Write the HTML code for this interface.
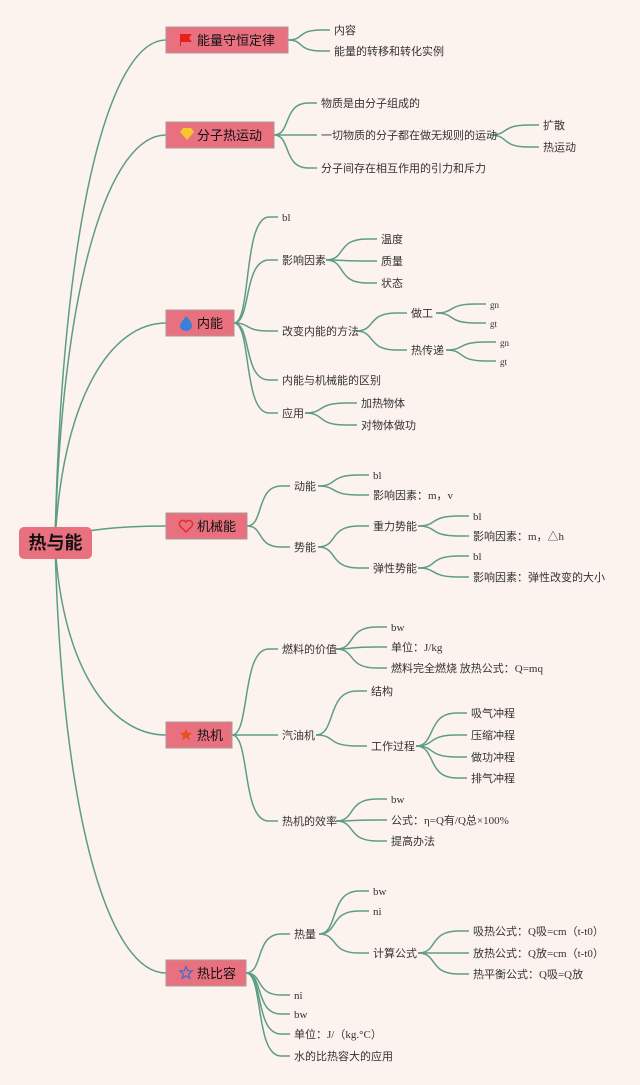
<!DOCTYPE html>
<html><head><meta charset="utf-8"><style>
html,body{margin:0;padding:0;background:#fcf3ef;}
svg{display:block;font-family:"Liberation Sans","Noto Sans CJK SC",sans-serif;}
.lf{font-family:"Liberation Serif","Noto Sans CJK SC",serif;}
</style></head><body>
<svg id="s" width="640" height="1085" xmlns="http://www.w3.org/2000/svg">
<rect width="640" height="1085" fill="#fcf3ef"/>
<g id="lines" fill="none" stroke="#5e9c84" stroke-width="1.5"></g>
<g id="nodes"></g>
</svg>
<script>
var L=document.getElementById('lines'),N=document.getElementById('nodes'),ns='http://www.w3.org/2000/svg';
function el(p,t,a,txt){var e=document.createElementNS(ns,t);for(var k in a)e.setAttribute(k,a[k]);if(txt)e.textContent=txt;p.appendChild(e);return e;}
function curve(px,py,cx,cy){var dx=cx-px;el(L,'path',{d:'M'+px+','+py+' C'+(px+dx*0.4)+','+py+' '+(px+dx*0.2)+','+cy+' '+(px+dx*0.8)+','+cy+' L'+cx+','+cy});}
function leaf(px,py,x,y,t,fs){curve(px,py,x-4,y);el(N,'text',{x:x,y:y+4,'font-size':fs||11,fill:'#333','class':'lf'},t);}
var mains=[[27,122,'能量守恒定律','flag'],[122,108,'分子热运动','gem'],[310,68,'内能','fire'],[513,81,'机械能','heart'],[722,66,'热机','star'],[960,80,'热比容','star2']];
mains.forEach(function(m){var cy=m[0]+13;el(L,'path',{d:'M55,543 C62,'+(cy+(543-cy)*0.35)+' 110,'+cy+' 166,'+cy});});
el(N,'rect',{x:19,y:527,width:73,height:32,rx:5,fill:'#e8707f'});
el(N,'text',{x:55.5,y:549,'font-size':18,'font-weight':'bold','text-anchor':'middle',fill:'#111'},'热与能');
mains.forEach(function(m){var y=m[0];el(N,'rect',{x:166,y:y,width:m[1],height:26,fill:'#e8707f',stroke:'#a89a9a','stroke-width':1});
var iy=y+13;
if(m[3]=='flag'){el(N,'path',{d:'M180,'+(y+7)+' h12 l-3,4 l3,4 h-11 v4 h-1z',fill:'#e8201c'});}
else if(m[3]=='gem'){el(N,'path',{d:'M180,'+(iy-3)+' l3,-4 h8 l3,4 l-7,8z',fill:'#f7c52c'});}
else if(m[3]=='fire'){el(N,'path',{d:'M186,'+(iy-7)+' c4,4 6,7 6,10 a6,5 0 0 1 -12,0 c0,-3 3,-5 6,-10z',fill:'#3a7fd8'});}
else if(m[3]=='heart'){el(N,'path',{d:'M186,'+(iy+6)+' l-6,-6 a3.2,3.2 0 0 1 6,-4 a3.2,3.2 0 0 1 6,4z',fill:'none',stroke:'#e0302c','stroke-width':1.5});}
else {var cx=186,pts=[];for(var i=0;i<10;i++){var r=i%2?2.8:6.5,a=-Math.PI/2+i*Math.PI/5;pts.push((cx+r*Math.cos(a)).toFixed(1)+','+(iy+r*Math.sin(a)).toFixed(1));}
 if(m[3]=='star')el(N,'polygon',{points:pts.join(' '),fill:'#e8501c'});else el(N,'polygon',{points:pts.join(' '),fill:'none',stroke:'#3a6fd0','stroke-width':1.2});}
el(N,'text',{x:197,y:y+18,'font-size':13,fill:'#111'},m[2]);});
leaf(288,40,334,30,'内容');leaf(288,40,334,51,'能量的转移和转化实例');
leaf(274,135,321,103,'物质是由分子组成的');leaf(274,135,321,135,'一切物质的分子都在做无规则的运动');leaf(274,135,321,168,'分子间存在相互作用的引力和斥力');
leaf(490,135,543,125,'扩散');leaf(490,135,543,147,'热运动');
[[217,'bl'],[260,'影响因素'],[331,'改变内能的方法'],[380,'内能与机械能的区别'],[413,'应用']].forEach(function(c){leaf(234,323,282,c[0],c[1]);});
leaf(326,260,381,239,'温度');leaf(326,260,381,261,'质量');leaf(326,260,381,283,'状态');
leaf(356,331,411,313,'做工');leaf(356,331,411,350,'热传递');
leaf(436,313,490,304,'gn',9);leaf(436,313,490,323,'gt',9);
leaf(446,350,500,342,'gn',9);leaf(446,350,500,361,'gt',9);
leaf(305,413,361,403,'加热物体');leaf(305,413,361,425,'对物体做功');
leaf(247,526,294,486,'动能');leaf(247,526,294,547,'势能');
leaf(318,486,373,475,'bl');leaf(318,486,373,495,'影响因素：m，v');
leaf(318,547,373,526,'重力势能');leaf(318,547,373,568,'弹性势能');
leaf(418,526,473,516,'bl');leaf(418,526,473,536,'影响因素：m，△h');
leaf(418,568,473,556,'bl');leaf(418,568,473,577,'影响因素：弹性改变的大小');
leaf(232,735,282,649,'燃料的价值');leaf(232,735,282,735,'汽油机');leaf(232,735,282,821,'热机的效率');
leaf(336,649,391,627,'bw');leaf(336,649,391,647,'单位：J/kg');leaf(336,649,391,668,'燃料完全燃烧 放热公式：Q=mq');
leaf(316,735,371,691,'结构');leaf(316,735,371,746,'工作过程');
[[713,'吸气冲程'],[735,'压缩冲程'],[757,'做功冲程'],[778,'排气冲程']].forEach(function(c){leaf(416,746,471,c[0],c[1]);});
leaf(336,821,391,799,'bw');leaf(336,821,391,820,'公式：η=Q有/Q总×100%');leaf(336,821,391,841,'提高办法');
[[934,'热量'],[995,'ni'],[1014,'bw'],[1034,'单位：J/（kg.°C）'],[1056,'水的比热容大的应用']].forEach(function(c){leaf(246,973,294,c[0],c[1]);});
leaf(319,934,373,891,'bw');leaf(319,934,373,911,'ni');leaf(319,934,373,953,'计算公式');
leaf(418,953,473,931,'吸热公式：Q吸=cm（t-t0）');leaf(418,953,473,953,'放热公式：Q放=cm（t-t0）');leaf(418,953,473,974,'热平衡公式：Q吸=Q放');
</script>
</body></html>
